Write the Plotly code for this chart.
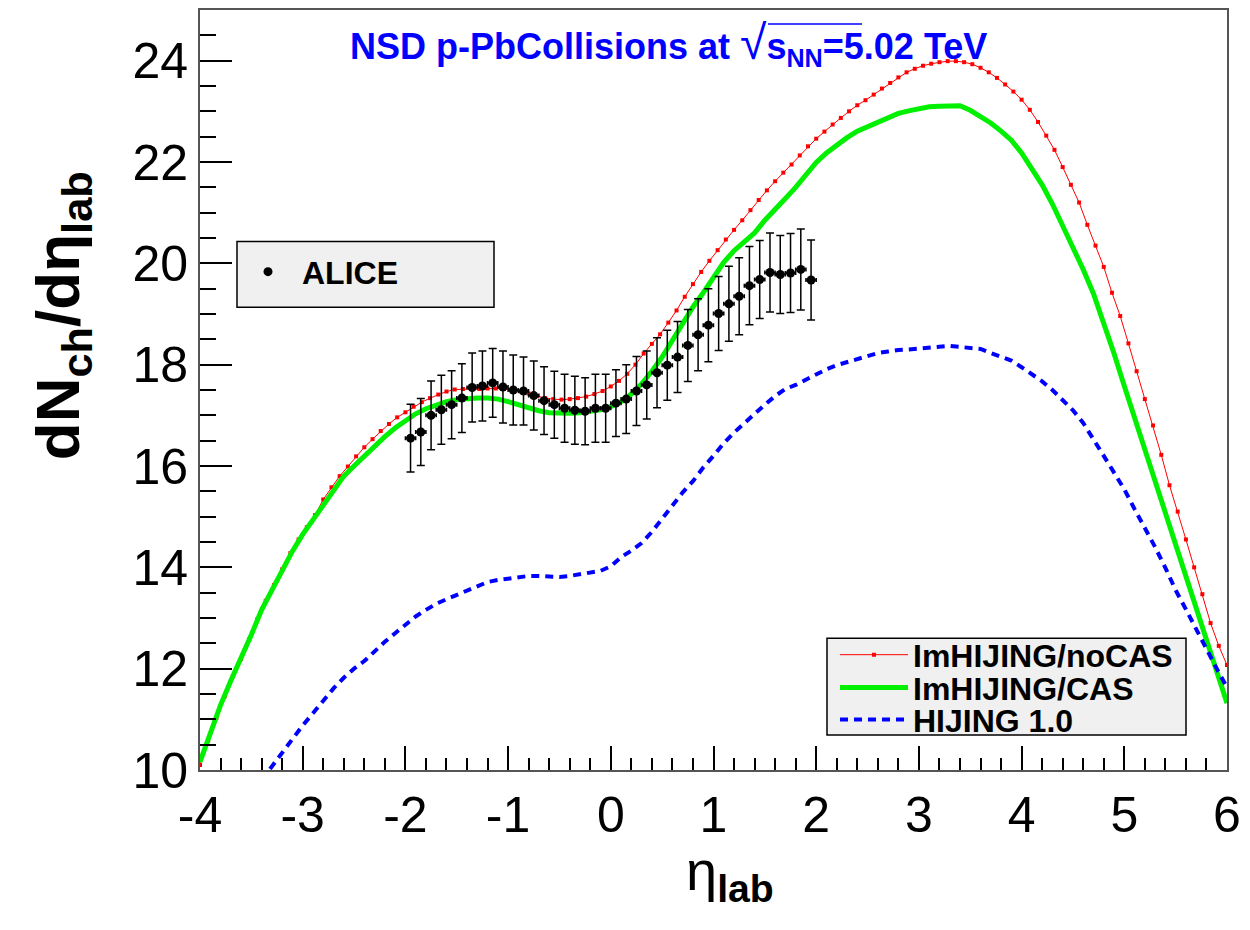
import numpy as np
import plotly.graph_objects as go

# ---------------- data ----------------
# ALICE data points (eta_lab, dNch/deta_lab, error)
alice_eta = [-1.95, -1.85, -1.75, -1.65, -1.55, -1.45, -1.35, -1.25, -1.15, -1.05,
             -0.95, -0.85, -0.75, -0.65, -0.55, -0.45, -0.35, -0.25, -0.15, -0.05,
             0.05, 0.15, 0.25, 0.35, 0.45, 0.55, 0.65, 0.75, 0.85, 0.95,
             1.05, 1.15, 1.25, 1.35, 1.45, 1.55, 1.65, 1.75, 1.85, 1.95]
alice_val = [16.55, 16.67, 17.00, 17.11, 17.21, 17.34, 17.55, 17.58, 17.64, 17.56,
             17.50, 17.48, 17.39, 17.29, 17.21, 17.14, 17.10, 17.08, 17.14, 17.14,
             17.24, 17.32, 17.48, 17.60, 17.84, 17.99, 18.15, 18.38, 18.59, 18.78,
             19.01, 19.20, 19.35, 19.56, 19.68, 19.82, 19.78, 19.81, 19.88, 19.67]
alice_err = [0.67, 0.66, 0.68, 0.68, 0.67, 0.68, 0.68, 0.69, 0.68, 0.71,
             0.69, 0.67, 0.68, 0.67, 0.66, 0.67, 0.67, 0.66, 0.67, 0.67,
             0.66, 0.68, 0.68, 0.67, 0.69, 0.69, 0.70, 0.71, 0.71, 0.72,
             0.73, 0.74, 0.76, 0.77, 0.77, 0.78, 0.77, 0.78, 0.80, 0.79]
alice_xerr = [0.05] * len(alice_eta)

# ImHIJING/noCAS (red), eta from -4.00 to 6.00 in steps of 0.08
nocas_eta = list(np.round(np.linspace(-4.0, 6.0, 126), 2))
nocas_val = [10.10, 10.58, 11.03, 11.45, 11.85, 12.19, 12.58, 12.98, 13.34, 13.65,
             13.96, 14.28, 14.55, 14.79, 15.03, 15.34, 15.58, 15.80, 15.99, 16.19,
             16.37, 16.53, 16.69, 16.83, 16.96, 17.06, 17.17, 17.26, 17.34, 17.41,
             17.47, 17.51, 17.52, 17.52, 17.52, 17.53, 17.53, 17.52, 17.50, 17.47,
             17.43, 17.38, 17.34, 17.32, 17.31, 17.32, 17.34, 17.37, 17.42, 17.48,
             17.57, 17.68, 17.82, 18.00, 18.22, 18.41, 18.60, 18.83, 19.07, 19.34,
             19.59, 19.83, 20.05, 20.26, 20.47, 20.66, 20.85, 21.05, 21.25, 21.44,
             21.62, 21.79, 21.95, 22.13, 22.31, 22.46, 22.60, 22.74, 22.87, 23.00,
             23.12, 23.22, 23.33, 23.45, 23.56, 23.67, 23.77, 23.84, 23.90, 23.94,
             23.97, 23.99, 23.99, 23.97, 23.93, 23.86, 23.77, 23.66, 23.53, 23.39,
             23.23, 23.03, 22.79, 22.52, 22.24, 21.90, 21.55, 21.20, 20.76, 20.35,
             19.93, 19.42, 18.96, 18.42, 17.87, 17.32, 16.80, 16.22, 15.62, 15.10,
             14.55, 14.00, 13.47, 12.90, 12.45, 12.07]

# ImHIJING/CAS (green), eta from -4.0 to 6.0 in steps of 0.1
cas_eta = list(np.round(np.linspace(-4.0, 6.0, 101), 2))
cas_val = [10.16, 10.75, 11.28, 11.76, 12.20, 12.67, 13.16, 13.55, 13.95, 14.32,
           14.65, 14.93, 15.22, 15.52, 15.80, 16.00, 16.20, 16.40, 16.58, 16.75,
           16.90, 17.03, 17.13, 17.20, 17.27, 17.31, 17.33, 17.34, 17.34, 17.32,
           17.27, 17.21, 17.14, 17.09, 17.05, 17.04, 17.04, 17.05, 17.07, 17.11,
           17.17, 17.27, 17.42, 17.62, 17.87, 18.15, 18.48, 18.82, 19.14, 19.42,
           19.72, 20.02, 20.25, 20.42, 20.60, 20.85, 21.08, 21.28, 21.50, 21.76,
           21.99, 22.18, 22.34, 22.48, 22.61, 22.70, 22.79, 22.88, 22.96, 23.01,
           23.06, 23.09, 23.10, 23.11, 23.11, 23.02, 22.90, 22.77, 22.61, 22.43,
           22.18, 21.86, 21.55, 21.17, 20.75, 20.33, 19.88, 19.40, 18.82, 18.22,
           17.58, 16.95, 16.28, 15.65, 15.05, 14.45, 13.83, 13.21, 12.52, 11.90,
           11.32]

# HIJING 1.0 (blue dashed), eta from -3.4 to 6.0 in steps of 0.1
hij_eta = list(np.round(np.linspace(-3.4, 6.0, 95), 2))
hij_val = [9.80, 10.07, 10.36, 10.62, 10.88, 11.12, 11.38, 11.61, 11.82, 12.00,
           12.15, 12.35, 12.53, 12.70, 12.86, 13.03, 13.16, 13.28, 13.37, 13.45,
           13.53, 13.63, 13.71, 13.75, 13.78, 13.81, 13.83, 13.83, 13.82, 13.81,
           13.83, 13.86, 13.88, 13.93, 14.02, 14.20, 14.33, 14.48, 14.70, 14.97,
           15.22, 15.48, 15.70, 15.97, 16.20, 16.45, 16.66, 16.85, 17.03, 17.21,
           17.38, 17.52, 17.60, 17.70, 17.82, 17.91, 17.99, 18.05, 18.13, 18.19,
           18.23, 18.26, 18.29, 18.30, 18.32, 18.34, 18.36, 18.37, 18.35, 18.33,
           18.31, 18.23, 18.15, 18.08, 17.95, 17.82, 17.67, 17.50, 17.29, 17.10,
           16.85, 16.54, 16.20, 15.87, 15.54, 15.15, 14.78, 14.40, 13.99, 13.55,
           13.17, 12.77, 12.36, 12.00, 11.63]

x_ticks = [-4, -3, -2, -1, 0, 1, 2, 3, 4, 5, 6]
y_ticks = [10, 12, 14, 16, 18, 20, 22, 24]

FONT = "Liberation Sans, Arial, Helvetica, sans-serif"

# page offset (body margin) and plot area in screen pixels
OFF = 8
W, H = 1250, 930
SL, SR, ST, SB = 200, 1227, 8, 770      # plot area on screen


def px(xs):
    return (xs - SL) / (SR - SL)


def py(ys):
    return (SB - ys) / (SB - ST)


fig = go.Figure()

fig.add_trace(go.Scatter(
    x=nocas_eta, y=nocas_val, mode="lines+markers", name="ImHIJING/noCAS",
    line=dict(color="#ff0000", width=1),
    marker=dict(color="#ff0000", size=4, symbol="square"),
    legend="legend"))

fig.add_trace(go.Scatter(
    x=cas_eta, y=cas_val, mode="lines", name="ImHIJING/CAS",
    line=dict(color="#00f000", width=5),
    legend="legend3"))

fig.add_trace(go.Scatter(
    x=hij_eta, y=hij_val, mode="lines", name="HIJING 1.0",
    line=dict(color="#0000ff", width=4, dash="8px,6px"),
    legend="legend4"))

fig.add_trace(go.Scatter(
    x=alice_eta, y=alice_val, mode="markers", name="ALICE",
    marker=dict(color="black", size=9, symbol="circle"),
    error_y=dict(type="data", array=alice_err, color="black", thickness=1.5, width=4),
    error_x=dict(type="data", array=alice_xerr, color="black", thickness=1.5, width=2),
    legend="legend2"))

shapes = [
    # legend boxes
    dict(type="rect", xref="paper", yref="paper", x0=px(827), x1=px(1186), y0=py(735), y1=py(638),
         fillcolor="#f0f0f0", line=dict(color="black", width=1.5), layer="below"),
    dict(type="rect", xref="paper", yref="paper", x0=px(237), x1=px(494), y0=py(306), y1=py(240),
         fillcolor="#f0f0f0", line=dict(color="black", width=1.5), layer="below"),
    # overline of the square root in the title
    dict(type="line", xref="paper", yref="paper", x0=px(768), x1=px(862), y0=py(22), y1=py(22),
         line=dict(color="#0000ff", width=1.5)),
]

annotations = [
    dict(text="<b>NSD p-PbCollisions at </b><span style='font-size:48px'>√</span><b>s<sub>NN</sub>=5.02 TeV</b>",
         xref="paper", yref="paper", x=px(668), y=py(42), xanchor="center", yanchor="middle",
         showarrow=False, font=dict(family=FONT, size=36, color="#0000ff")),
    dict(text="<b>dN<sub>ch</sub>/dη<sub>lab</sub></b>",
         xref="paper", yref="paper", x=px(62), y=py(315), xanchor="center", yanchor="middle",
         textangle=-90, showarrow=False, font=dict(family=FONT, size=62, color="black")),
    dict(text="η<sub><b>lab</b></sub>",
         xref="paper", yref="paper", x=px(730), y=py(875), xanchor="center", yanchor="middle",
         showarrow=False, font=dict(family=FONT, size=56, color="black")),
]

LEGFONT = dict(family=FONT, size=32, color="black", weight="bold")


def leg(xs, ys, iw):
    return dict(x=px(xs), y=py(ys), xanchor="left", yanchor="top",
                bgcolor="rgba(0,0,0,0)", borderwidth=0, font=LEGFONT,
                itemwidth=iw, tracegroupgap=0)


fig.update_layout(
    width=W, height=H,
    margin=dict(l=SL - OFF, r=W - (SR - OFF), t=ST - OFF, b=H - (SB - OFF)),
    paper_bgcolor="white", plot_bgcolor="white",
    font=dict(family=FONT, color="black"),
    shapes=shapes, annotations=annotations,
    legend=leg(835, 627, 68),
    legend3=leg(835, 660, 68),
    legend4=leg(835, 692, 68),
    legend2=leg(234, 243, 58),
    showlegend=True,
)

fig.update_xaxes(
    range=[-4, 6], tickmode="array", tickvals=x_ticks, ticktext=[str(v) for v in x_ticks],
    ticks="inside", ticklen=24, tickwidth=1.5, tickcolor="black",
    minor=dict(dtick=0.2, tick0=-4, ticks="inside", ticklen=12, tickwidth=1.5, tickcolor="black", showgrid=False),
    showline=True, linecolor="#555555", linewidth=2, mirror=True, showgrid=False, zeroline=False,
    tickfont=dict(family=FONT, size=50, color="black"))

fig.update_yaxes(
    range=[10, 25], tickmode="array", tickvals=y_ticks, ticktext=[str(v) for v in y_ticks],
    ticks="inside", ticklen=32, tickwidth=1.5, tickcolor="black",
    minor=dict(dtick=0.5, tick0=10, ticks="inside", ticklen=16, tickwidth=1.5, tickcolor="black", showgrid=False),
    showline=True, linecolor="#555555", linewidth=2, mirror=True, showgrid=False, zeroline=False,
    tickfont=dict(family=FONT, size=50, color="black"))

fig.write_html("out.html")
